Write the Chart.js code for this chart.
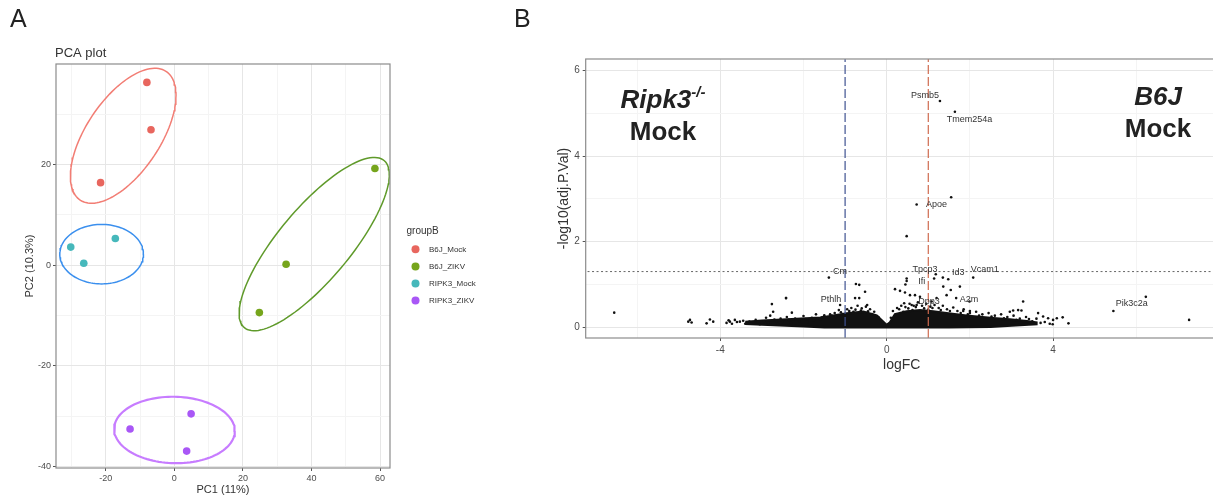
<!DOCTYPE html>
<html>
<head>
<meta charset="utf-8">
<script src="https://cdn.jsdelivr.net/npm/chart.js@4.4.1/dist/chart.umd.min.js"></script>
<style>
  html, body { margin: 0; padding: 0; background: #fff; overflow: hidden; width: 1213px; height: 500px; }
  #wrapA { position: absolute; left: 0; top: 0; width: 500px; height: 500px; }
  #wrapB { position: absolute; left: 500px; top: 0; width: 730px; height: 500px; }
</style>
</head>
<body>
<div id="wrapA"><canvas id="pca" width="500" height="500"></canvas></div>
<div id="wrapB"><canvas id="volcano" width="730" height="500"></canvas></div>
<script>
// ---------- panel A data ----------
const groups = ["B6J_Mock", "B6J_ZIKV", "RIPK3_Mock", "RIPK3_ZIKV"];
const pointColors = ["#E8665E", "#76A51C", "#46B8BB", "#A957F6"];
const ellipseColors = ["#F27D74", "#5F9A2A", "#3A8FEE", "#C77CFF"];

const b6jMock = [[-8.0, 36.3], [-6.8, 26.9], [-21.5, 16.4]];
const b6jZikv = [[58.5, 19.2], [32.6, 0.2], [24.8, -9.4]];
const ripk3Mock = [[-30.2, 3.6], [-26.4, 0.4], [-17.2, 5.3]];
const ripk3Zikv = [[-12.9, -32.5], [4.9, -29.5], [3.6, -36.9]];

// centre x, centre y, half width, half height, correlation
const ellipseParams = [
  [-14.9, 25.7, 15.4, 13.4, 0.60],
  [40.8, 4.2, 21.9, 17.2, 0.80],
  [-21.2, 2.2, 12.2, 5.9, 0.0],
  [0.05, -32.7, 17.6, 6.6, -0.03],
];

const pcaXTicks = [-30, -20, -10, 0, 10, 20, 30, 40, 50, 60];
const pcaYTicks = [-40, -30, -20, -10, 0, 10, 20, 30];

// ---------- panel B data ----------
const volcanoPts = [
  [-6.55, 0.34], [-4.77, 0.13], [-4.73, 0.17], [-4.69, 0.11], [-4.33, 0.09], [-4.25, 0.18], [-4.17, 0.13],
  [-3.77, 0.13], [-3.65, 0.17], [-3.53, 0.13], [-2.76, 0.54], [-2.42, 0.68], [-2.73, 0.36], [-2.28, 0.34],
  [-1.39, 1.16], [-0.74, 1.01], [-0.66, 0.99], [-0.52, 0.83], [-0.76, 0.68], [-0.66, 0.68], [-0.47, 0.52],
  [-1.36, 0.30], [-1.12, 0.52], [-2.42, 0.68],
  [0.48, 2.13], [0.72, 2.87], [1.55, 3.04], [1.28, 5.29], [1.64, 5.04],
  [0.48, 1.14], [0.48, 1.08], [0.45, 1.0], [1.14, 1.14], [1.35, 1.16], [1.48, 1.12], [2.08, 1.16],
  [1.18, 1.24], [1.36, 0.95], [1.54, 0.87], [1.76, 0.95], [0.2, 0.89], [0.32, 0.85], [0.44, 0.81],
  [0.56, 0.75], [0.68, 0.75], [0.8, 0.71], [1.08, 0.6], [1.2, 0.68], [1.44, 0.75], [1.67, 0.68],
  [1.99, 0.6], [0.42, 0.56], [0.6, 0.52], [0.72, 0.52], [3.28, 0.6], [2.0, 0.38], [1.84, 0.38],
  [2.96, 0.36], [3.04, 0.39], [3.16, 0.4], [3.24, 0.39], [3.64, 0.33], [3.76, 0.25], [3.88, 0.21],
  [4.0, 0.17], [4.09, 0.21], [4.23, 0.23], [4.37, 0.09], [3.99, 0.07],
  [5.45, 0.38], [6.23, 0.71], [7.27, 0.17],
];
// scattered points along the edge of the dense cloud
const edgePts = [
  [-3.85, 0.10], [-3.80, 0.16], [-3.72, 0.08], [-3.60, 0.12], [-3.45, 0.15], [-3.40, 0.08], [-3.30, 0.13],
  [-3.20, 0.10], [-3.15, 0.17], [-3.05, 0.07], [-2.95, 0.14], [-2.90, 0.22], [-2.85, 0.10], [-2.80, 0.27],
  [-2.70, 0.18], [-2.62, 0.08], [-2.55, 0.20], [-2.50, 0.12], [-2.40, 0.24], [-2.30, 0.10], [-2.20, 0.20],
  [-2.10, 0.14], [-2.00, 0.26], [-1.90, 0.12], [-1.80, 0.22], [-1.70, 0.30], [-1.60, 0.18], [-1.50, 0.28],
  [-1.40, 0.22], [-1.25, 0.33], [-1.15, 0.40], [-1.05, 0.30], [-0.95, 0.42], [-0.85, 0.45], [-0.80, 0.36],
  [-0.70, 0.50], [-0.60, 0.44], [-0.50, 0.48], [-0.40, 0.42], [-0.30, 0.36],
  [-1.32, 0.27], [-1.22, 0.24], [-1.10, 0.35], [-0.90, 0.38], [-0.75, 0.41], [-0.62, 0.39], [-0.45, 0.37],
  [-0.35, 0.31], [-0.20, 0.24], [-2.65, 0.13], [-2.35, 0.17], [-1.95, 0.19], [-1.75, 0.16], [-1.55, 0.23],
  [0.15, 0.38], [0.25, 0.45], [0.35, 0.50], [0.45, 0.47], [0.55, 0.55], [0.65, 0.50], [0.75, 0.58],
  [0.85, 0.50], [0.95, 0.55], [1.05, 0.48], [1.15, 0.52], [1.25, 0.45], [1.35, 0.50], [1.45, 0.42],
  [1.60, 0.46], [1.70, 0.38], [1.85, 0.42], [2.00, 0.33], [2.15, 0.36], [2.30, 0.30], [2.45, 0.33],
  [2.60, 0.27], [2.75, 0.30], [2.90, 0.24], [3.05, 0.27], [3.20, 0.20], [3.35, 0.24], [3.50, 0.14],
  [3.60, 0.20], [3.70, 0.10],
  [0.10, 0.22], [0.30, 0.42], [0.40, 0.36], [0.52, 0.44], [0.62, 0.40], [0.70, 0.47], [0.90, 0.44],
  [1.00, 0.41], [1.10, 0.45], [1.30, 0.40], [1.52, 0.38], [1.78, 0.33], [1.95, 0.30], [2.22, 0.27],
  [2.52, 0.25], [2.82, 0.21], [3.12, 0.17], [3.42, 0.19], [3.80, 0.12], [3.92, 0.08],
];
// outline of the solid cloud of non-significant genes
const cloudUpperX = [-3.4, -3.0, -2.4, -1.6, -1.36, -0.96, -0.56, -0.24, -0.12, 0, 0.08, 0.2, 0.48, 0.8, 1.12, 1.44, 1.92, 2.56, 2.96, 3.37, 3.6];
const cloudUpperY = [0.12, 0.15, 0.18, 0.22, 0.26, 0.32, 0.36, 0.27, 0.16, 0.05, 0.11, 0.30, 0.37, 0.40, 0.37, 0.33, 0.27, 0.21, 0.18, 0.14, 0.11];
const cloudLowerX = [3.6, 3.0, 2.5, 1.5, 0, -1.5, -2.0, -3.0, -3.4];
const cloudLowerY = [0.07, 0.04, 0.01, 0.0, 0.0, 0.0, 0.02, 0.06, 0.08];

const geneNames = ["Psmb5", "Tmem254a", "Apoe", "Tpcp3", "Id3", "Vcam1", "Cm", "Ifi", "Pthlh", "Dpp3", "A2m", "Pik3c2a"];
const geneX = [0.92, 1.99, 1.20, 0.92, 1.72, 2.36, -1.12, 0.84, -1.34, 1.02, 1.98, 5.89];
const geneY = [5.43, 4.86, 2.86, 1.36, 1.28, 1.34, 1.31, 1.06, 0.64, 0.60, 0.64, 0.56];

const fcCutoffs = [-1, 1];
const pCutoff = 1.301;
const volcanoXTicks = [-6, -4, -2, 0, 2, 4, 6];
const volcanoYTicks = [0, 1, 2, 3, 4, 5, 6];

const FONT = '"Liberation Sans", Arial, Helvetica, sans-serif';
const toXY = arr => arr.map(p => ({ x: p[0], y: p[1] }));

function ellipsePath(p) {
  const [cx, cy, sx, sy, r] = p;
  const out = [];
  const k = Math.sqrt(1 - r * r);
  for (let i = 0; i <= 120; i++) {
    const t = (i / 120) * Math.PI * 2;
    out.push({ x: cx + sx * Math.cos(t), y: cy + sy * (r * Math.cos(t) + k * Math.sin(t)) });
  }
  return out;
}

// ---------- panel A ----------
const groupPts = [b6jMock, b6jZikv, ripk3Mock, ripk3Zikv];
const pcaDatasets = [];
groups.forEach((g, i) => {
  pcaDatasets.push({
    label: g,
    data: toXY(groupPts[i]),
    pointRadius: 3.8,
    pointBackgroundColor: pointColors[i],
    pointBorderWidth: 0,
    order: 0,
  });
});
groups.forEach((g, i) => {
  pcaDatasets.push({
    type: "line",
    label: g + " ellipse",
    data: ellipsePath(ellipseParams[i]),
    borderColor: ellipseColors[i],
    borderWidth: i === 3 ? 2.2 : 1.5,
    pointRadius: 0,
    fill: false,
    order: 1,
  });
});

const pcaDecor = {
  id: "pcaDecor",
  afterDraw(chart) {
    const { ctx, chartArea: a } = chart;
    ctx.save();
    ctx.strokeStyle = "#8c8c8c";
    ctx.lineWidth = 1.2;
    ctx.strokeRect(a.left, a.top, a.right - a.left, a.bottom - a.top);

    ctx.fillStyle = "#222";
    ctx.textAlign = "left";
    ctx.textBaseline = "alphabetic";
    ctx.font = "25px " + FONT;
    ctx.fillText("A", 10, 27);
    ctx.fillStyle = "#333";
    ctx.font = "13px " + FONT;
    ctx.fillText("PCA plot", 55, 57);

    ctx.font = "11px " + FONT;
    ctx.textAlign = "center";
    ctx.textBaseline = "middle";
    ctx.fillText("PC1 (11%)", (a.left + a.right) / 2, 490);
    ctx.save();
    ctx.translate(30, (a.top + a.bottom) / 2);
    ctx.rotate(-Math.PI / 2);
    ctx.fillText("PC2 (10.3%)", 0, 0);
    ctx.restore();

    // legend
    ctx.textAlign = "left";
    ctx.font = "10px " + FONT;
    ctx.fillText("groupB", 406.5, 231.5);
    ctx.font = "8px " + FONT;
    groups.forEach((g, i) => {
      const yy = 249.3 + i * 17.1;
      ctx.beginPath();
      ctx.fillStyle = pointColors[i];
      ctx.arc(415.5, yy, 4, 0, Math.PI * 2);
      ctx.fill();
      ctx.fillStyle = "#333";
      ctx.fillText(g, 429, yy);
    });
    ctx.restore();
  },
};

function gridOpts(isMajor) {
  return {
    color: c => (isMajor(c.tick.value) ? "#e6e6e6" : "#f4f4f4"),
    lineWidth: 1,
    tickLength: 3,
    tickColor: c => (isMajor(c.tick.value) ? "#555" : "rgba(0,0,0,0)"),
  };
}

new Chart(document.getElementById("pca"), {
  type: "scatter",
  data: { datasets: pcaDatasets },
  options: {
    responsive: false,
    animation: false,
    events: [],
    layout: { padding: { left: 0, right: 110, top: 64, bottom: 0 } },
    plugins: { legend: { display: false }, tooltip: { enabled: false } },
    scales: {
      x: {
        type: "linear",
        min: -34.5,
        max: 62.9,
        afterBuildTicks: s => { s.ticks = pcaXTicks.map(v => ({ value: v })); },
        afterFit: s => { s.height = 32; },
        grid: gridOpts(v => v % 20 === 0),
        border: { display: false },
        ticks: {
          autoSkip: false, maxRotation: 0, padding: 2, color: "#4d4d4d",
          font: { size: 9, family: FONT },
          callback: v => (v % 20 === 0 ? String(v) : ""),
        },
      },
      y: {
        type: "linear",
        min: -40.25,
        max: 39.95,
        afterBuildTicks: s => { s.ticks = pcaYTicks.map(v => ({ value: v })); },
        afterFit: s => { s.width = 56; },
        grid: gridOpts(v => v % 20 === 0),
        border: { display: false },
        ticks: {
          autoSkip: false, padding: 2, color: "#4d4d4d",
          font: { size: 9, family: FONT },
          callback: v => (v % 20 === 0 ? String(v) : ""),
        },
      },
    },
  },
  plugins: [pcaDecor],
});

// ---------- panel B ----------
const yMin = -0.253, yMax = 6.274;
const cloudOutline = toXY(
  cloudUpperX.map((x, i) => [x, cloudUpperY[i]]).concat(cloudLowerX.map((x, i) => [x, cloudLowerY[i]]))
);

const volcanoDecor = {
  id: "volcanoDecor",
  afterDraw(chart) {
    const { ctx, chartArea: a, scales } = chart;
    const sx = scales.x, sy = scales.y;
    ctx.save();
    ctx.strokeStyle = "#8c8c8c";
    ctx.lineWidth = 1.2;
    ctx.strokeRect(a.left, a.top, a.right - a.left, a.bottom - a.top);

    // gene labels
    ctx.fillStyle = "#333";
    ctx.font = "9px " + FONT;
    ctx.textAlign = "center";
    ctx.textBaseline = "middle";
    geneNames.forEach((g, i) => ctx.fillText(g, sx.getPixelForValue(geneX[i]), sy.getPixelForValue(geneY[i])));

    // panel letter + axis titles
    ctx.fillStyle = "#222";
    ctx.textAlign = "left";
    ctx.textBaseline = "alphabetic";
    ctx.font = "25px " + FONT;
    ctx.fillText("B", 14, 27);

    ctx.fillStyle = "#333";
    ctx.font = "14px " + FONT;
    ctx.textAlign = "center";
    ctx.textBaseline = "middle";
    ctx.fillText("logFC", (a.left + a.right) / 2, 365);
    ctx.save();
    ctx.translate(64, (a.top + a.bottom) / 2);
    ctx.rotate(-Math.PI / 2);
    ctx.fillText("-log10(adj.P.Val)", 0, 0);
    ctx.restore();

    // condition labels
    ctx.fillStyle = "#222";
    ctx.textBaseline = "alphabetic";
    ctx.textAlign = "left";
    ctx.font = "italic bold 26px " + FONT;
    const w1 = ctx.measureText("Ripk3").width;
    ctx.font = "italic bold 15px " + FONT;
    const w2 = ctx.measureText("-/-").width;
    const x0 = 163 - (w1 + w2) / 2;
    ctx.font = "italic bold 26px " + FONT;
    ctx.fillText("Ripk3", x0, 108);
    ctx.font = "italic bold 15px " + FONT;
    ctx.fillText("-/-", x0 + w1, 97);
    ctx.textAlign = "center";
    ctx.font = "bold 26px " + FONT;
    ctx.fillText("Mock", 163, 140);
    ctx.font = "italic bold 26px " + FONT;
    ctx.fillText("B6J", 658, 105);
    ctx.font = "bold 26px " + FONT;
    ctx.fillText("Mock", 658, 137);
    ctx.restore();
  },
};

new Chart(document.getElementById("volcano"), {
  type: "scatter",
  data: {
    datasets: [
      {
        type: "line", label: "fc-low", data: [{ x: fcCutoffs[0], y: yMin }, { x: fcCutoffs[0], y: yMax }],
        borderColor: "#3f5190", borderWidth: 1.2, borderDash: [9, 3], pointRadius: 0, order: 0,
      },
      {
        type: "line", label: "fc-high", data: [{ x: fcCutoffs[1], y: yMin }, { x: fcCutoffs[1], y: yMax }],
        borderColor: "#cf6a4e", borderWidth: 1.2, borderDash: [9, 3], pointRadius: 0, order: 0,
      },
      {
        type: "line", label: "p-cut", data: [{ x: -7.3, y: pCutoff }, { x: 8.1, y: pCutoff }],
        borderColor: "#666", borderWidth: 1, borderDash: [2, 2.5], pointRadius: 0, order: 0,
      },
      { label: "genes", data: toXY(volcanoPts), pointRadius: 1.3, pointBackgroundColor: "#111", pointBorderWidth: 0, order: 1 },
      { label: "edge", data: toXY(edgePts), pointRadius: 1.3, pointBackgroundColor: "#111", pointBorderWidth: 0, order: 1 },
      {
        type: "line", label: "cloud", data: cloudOutline, borderColor: "#111", borderWidth: 2.4,
        backgroundColor: "#111", fill: "shape", pointRadius: 0, order: 2,
      },
    ],
  },
  options: {
    responsive: false,
    animation: false,
    events: [],
    layout: { padding: { left: 0, right: 12.2, top: 59, bottom: 0 } },
    plugins: { legend: { display: false }, tooltip: { enabled: false } },
    scales: {
      x: {
        type: "linear",
        min: -7.236,
        max: 7.96,
        afterBuildTicks: s => { s.ticks = volcanoXTicks.map(v => ({ value: v })); },
        afterFit: s => { s.height = 162; },
        grid: gridOpts(v => v % 4 === 0),
        border: { display: false },
        ticks: {
          autoSkip: false, maxRotation: 0, padding: 3, color: "#4d4d4d",
          font: { size: 10, family: FONT },
          callback: v => (v % 4 === 0 ? String(v) : ""),
        },
      },
      y: {
        type: "linear",
        min: yMin,
        max: yMax,
        afterBuildTicks: s => { s.ticks = volcanoYTicks.map(v => ({ value: v })); },
        afterFit: s => { s.width = 85.7; },
        grid: gridOpts(v => v % 2 === 0),
        border: { display: false },
        ticks: {
          autoSkip: false, padding: 3, color: "#4d4d4d",
          font: { size: 10, family: FONT },
          callback: v => (v % 2 === 0 ? String(v) : ""),
        },
      },
    },
  },
  plugins: [volcanoDecor],
});
</script>
</body>
</html>
